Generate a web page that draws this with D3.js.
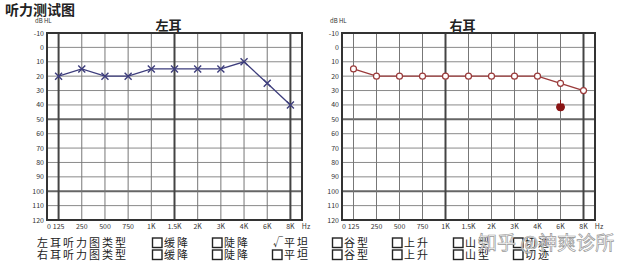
<!DOCTYPE html>
<html>
<head>
<meta charset="utf-8">
<script src="https://cdn.jsdelivr.net/npm/d3@7"></script>
<style>
  body { margin: 0; background: #fff; }
  svg { display: block; font-family: "Noto Sans CJK SC", "DejaVu Sans", sans-serif; }
</style>
</head>
<body>
<svg width="628" height="269"></svg>
<script>
// frequencies along the bottom, and the extra labels at the plot edges
const freqs = ["125", "250", "500", "750", "1K", "1.5K", "2K", "3K", "4K", "6K", "8K"];
const dbTicks = [-10, 0, 10, 20, 30, 40, 50, 60, 70, 80, 90, 100, 110, 120];
const leftEar = [20, 15, 20, 20, 15, 15, 15, 15, 10, 25, 40];
const rightEar = [15, 20, 20, 20, 20, 20, 20, 20, 20, 25, 30];
const rightExtra = [{ f: "6K", v: 40 }];
const rowLabels = ["左耳听力图类型", "右耳听力图类型"];
const typeNames = ["缓降", "陡降", "平坦", "谷型", "上升", "山型", "切迹"];
const leftChecked = ["平坦"];
const rightChecked = [];

const svg = d3.select("svg");

svg.append("text")
    .attr("x", 5).attr("y", 15)
    .attr("font-size", 14).attr("font-weight", "bold")
    .attr("fill", "#222")
    .text("听力测试图");

drawChart(47, 302, "左耳", leftEar, "x", ["125", "1.5K", "8K"], []);
drawChart(342, 595, "右耳", rightEar, "o", ["1K", "8K"], rightExtra);
drawLegend();

function drawChart(x0, x1, title, values, marker, thickFreqs, extra) {
    const y0 = 33, y1 = 220;
    const x = d3.scalePoint().domain(freqs).range([x0, x1]).padding(0.5);
    const y = d3.scaleLinear().domain([-10, 120]).range([y0, y1]);
    const g = svg.append("g");

    // grid
    g.selectAll(".hgrid")
        .data(dbTicks)
        .enter().append("line")
        .attr("x1", x0).attr("x2", x1)
        .attr("y1", d => y(d)).attr("y2", d => y(d))
        .attr("stroke", d => (d == 50 || d == 100) ? "#666" : "#8a8a8a")
        .attr("stroke-width", d => (d == 50 || d == 100) ? 2 : 1);
    g.selectAll(".vgrid")
        .data(freqs)
        .enter().append("line")
        .attr("x1", d => x(d)).attr("x2", d => x(d))
        .attr("y1", y0).attr("y2", y1)
        .attr("stroke", d => thickFreqs.includes(d) ? "#444" : "#777")
        .attr("stroke-width", d => thickFreqs.includes(d) ? 2 : 1);
    g.append("rect")
        .attr("x", x0).attr("y", y0)
        .attr("width", x1 - x0).attr("height", y1 - y0)
        .attr("fill", "none").attr("stroke", "#333").attr("stroke-width", 2);

    // axis labels
    g.selectAll(".ylab")
        .data(dbTicks)
        .enter().append("text")
        .attr("x", x0 - 3).attr("y", d => y(d) + 2.5)
        .attr("text-anchor", "end")
        .attr("font-size", 7).attr("fill", "#333")
        .text(d => d);
    const xlabels = [{ t: "0", p: x0 + 2 }].concat(freqs.map(f => ({ t: f, p: x(f) })), [{ t: "Hz", p: x1 + 4 }]);
    g.selectAll(".xlab")
        .data(xlabels)
        .enter().append("text")
        .attr("x", d => d.p).attr("y", y1 + 9)
        .attr("text-anchor", "middle")
        .attr("font-size", 7).attr("fill", "#333")
        .text(d => d.t);
    g.append("text")
        .attr("x", x0 - 12).attr("y", 23)
        .attr("font-size", 6).attr("fill", "#333")
        .text("dB HL");
    g.append("text")
        .attr("x", (x0 + x1) / 2 - 6).attr("y", 30)
        .attr("text-anchor", "middle")
        .attr("font-size", 13).attr("font-weight", "bold").attr("fill", "#222")
        .text(title);

    const color = marker == "x" ? "#3d3d7c" : "#9a3a3a";
    const line = d3.line()
        .x((d, i) => x(freqs[i]))
        .y(d => y(d));
    g.append("path")
        .datum(values)
        .attr("d", line)
        .attr("fill", "none")
        .attr("stroke", color)
        .attr("stroke-width", 1.3);

    if (marker == "x") {
        g.selectAll(".mk")
            .data(values)
            .enter().append("path")
            .attr("transform", (d, i) => `translate(${x(freqs[i])},${y(d)})`)
            .attr("d", "M-3.5,-3.5L3.5,3.5M-3.5,3.5L3.5,-3.5")
            .attr("stroke", color).attr("stroke-width", 1.4);
    } else {
        g.selectAll(".mk")
            .data(values)
            .enter().append("circle")
            .attr("cx", (d, i) => x(freqs[i])).attr("cy", d => y(d))
            .attr("r", 3)
            .attr("fill", "#fff").attr("stroke", color).attr("stroke-width", 1.2);
    }

    g.selectAll(".extra")
        .data(extra)
        .enter().append("path")
        .attr("transform", d => `translate(${x(d.f)},${y(d.v) + 1})`)
        .attr("d", "M0,-6L0,-2M-3,-2L3,-2L4,1A4,4 0 1 1 -4,1Z")
        .attr("fill", "#8a1414").attr("stroke", "#8a1414").attr("stroke-width", 1);
}

function drawLegend() {
    const rows = [247, 259];
    const itemX = [152, 212, 272, 332, 392, 453, 513];
    rows.forEach((ry, r) => {
        svg.append("text")
            .attr("x", 37).attr("y", ry)
            .attr("font-size", 11).attr("fill", "#222")
            .attr("letter-spacing", 2)
            .text(rowLabels[r]);
        const checked = r == 0 ? leftChecked : rightChecked;
        const items = svg.append("g").selectAll("g")
            .data(typeNames)
            .enter().append("g")
            .attr("transform", (d, i) => `translate(${itemX[i]},${ry})`);
        items.filter(d => !checked.includes(d)).append("rect")
            .attr("x", 0.5).attr("y", -9)
            .attr("width", 9.5).attr("height", 9.5)
            .attr("fill", "none").attr("stroke", "#222").attr("stroke-width", 1.4);
        items.filter(d => checked.includes(d)).append("text")
            .attr("x", 1).attr("y", -1)
            .attr("font-size", 10).attr("fill", "#222")
            .text("√");
        items.append("text")
            .attr("x", 12).attr("y", 0)
            .attr("font-size", 11).attr("fill", "#222")
            .attr("letter-spacing", 2)
            .text(d => d);
    });

    svg.append("text")
        .attr("x", 478).attr("y", 250)
        .attr("font-size", 19)
        .attr("fill", "#fff").attr("fill-opacity", 0.85)
        .attr("stroke", "#999").attr("stroke-width", 0.7)
        .text("知乎 @神爽诊所");
}
</script>
</body>
</html>
